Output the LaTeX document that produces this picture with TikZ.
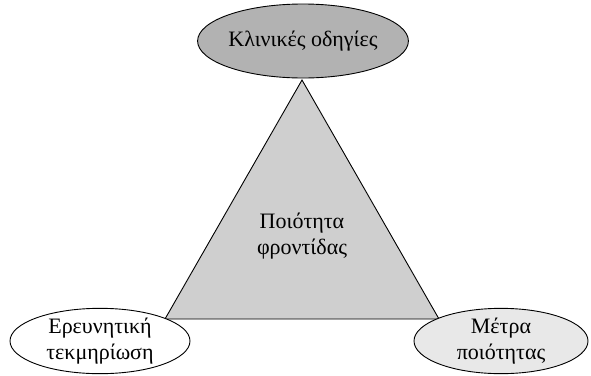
\documentclass[tikz,border=0pt]{standalone}
\usepackage{fontspec}
\setmainfont{Liberation Serif}
\usetikzlibrary{shapes.geometric}

\begin{document}
\begin{tikzpicture}[x=1pt, y=-1pt, line width=0.9pt, font=\fontsize{22}{26}\selectfont]
  \tikzstyle{topic}=[draw, ellipse, align=center, inner sep=0pt, minimum width=180pt, minimum height=62pt]
  \tikzstyle{core}=[draw, fill=black!19, line join=miter]

  \useasboundingbox (0,0) rectangle (591,375);

  % Triangle corners
  \coordinate (apex) at (302,80);
  \coordinate (left) at (165,319);
  \coordinate (right) at (439,319);
  \draw[core] (apex) -- (left) -- (right) -- cycle;
  \node[align=center] (quality) at (302,236) {Ποιότητα\\φροντίδας};

  % Ellipses at the corners
  \node[topic, fill=black!30, minimum height=74pt] (guides) at (303,41) {Κλινικές οδηγίες};
  \node[topic, fill=white] (research) at (100,341) {Ερευνητική\\τεκμηρίωση};
  \node[topic, fill=black!9, minimum width=174pt, minimum height=60pt] (measures) at (501,341) {Μέτρα\\ποιότητας};
\end{tikzpicture}
\end{document}
